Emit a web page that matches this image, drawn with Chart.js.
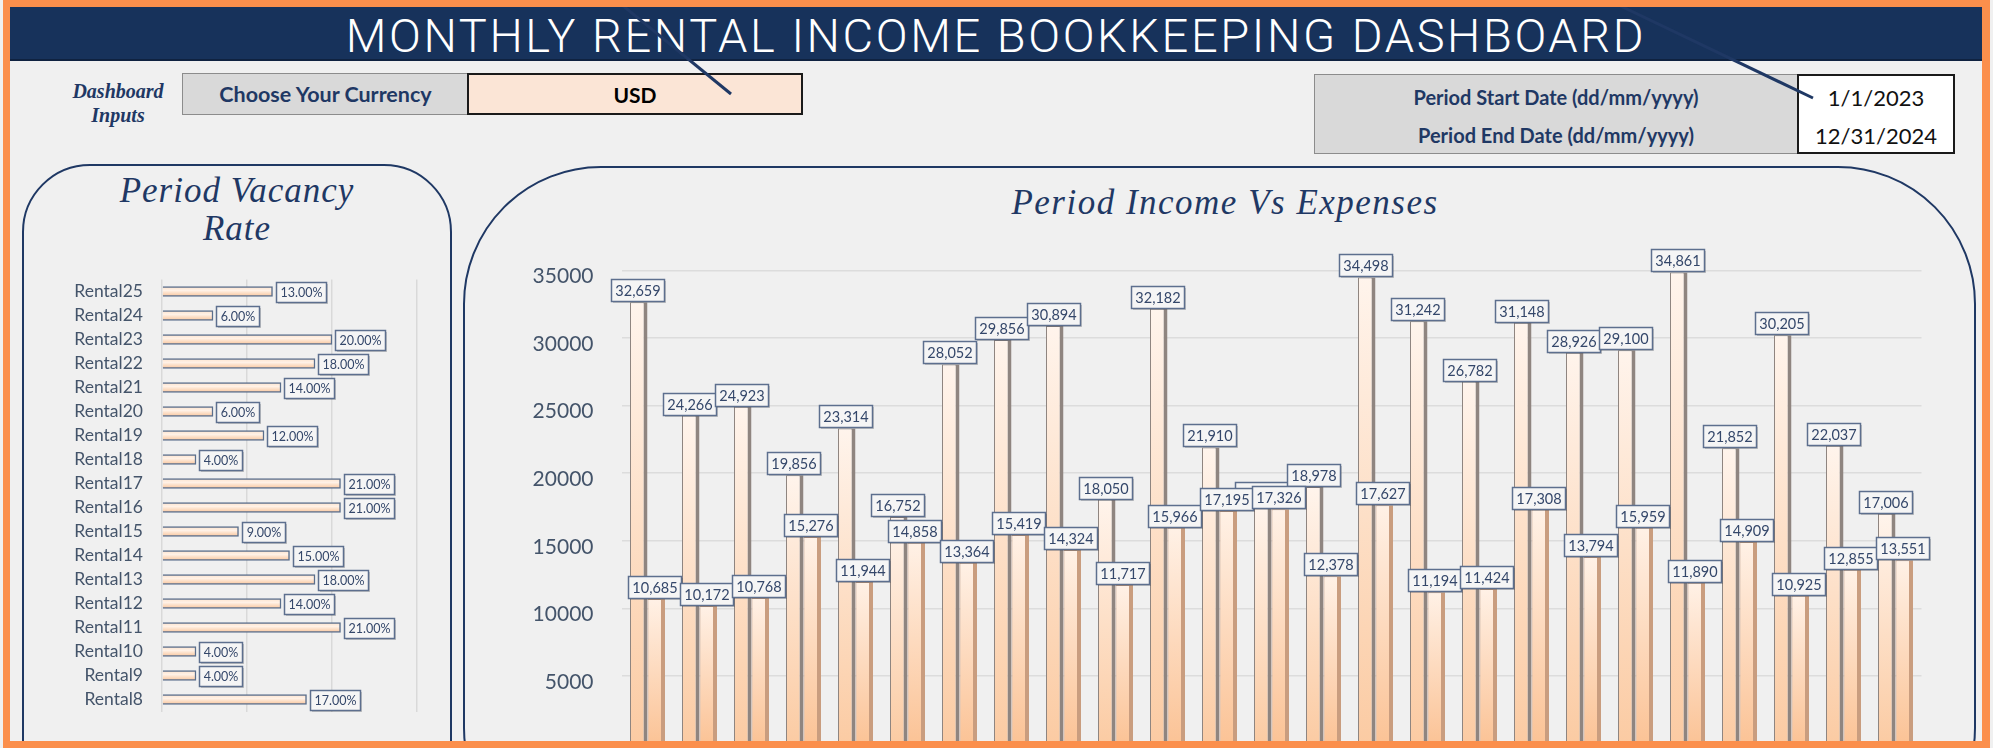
<!DOCTYPE html>
<html>
<head>
<meta charset="utf-8">
<title>Monthly Rental Income Bookkeeping Dashboard</title>
<script src="https://cdn.jsdelivr.net/npm/chart.js@4.4.0/dist/chart.umd.min.js"></script>
<style>
  body { margin:0; width:1993px; height:748px; overflow:hidden; background:#f0f0f0; position:relative; font-family:Lato, sans-serif; }
  .abs { position:absolute; box-sizing:border-box; }
  #frame { left:3px; top:0; width:1987px; height:748px; border:7px solid #fb8f4c; border-right-width:8px; z-index:20; }
  #titlebar { left:10px; top:7px; width:1972px; height:54px; background:#17325b; border-bottom:2px solid #0f2240;
              color:#fff; font:300 47px Roboto, "Liberation Sans", sans-serif; letter-spacing:2.6px; text-align:center; line-height:57px; }
  .script { font-family:"Liberation Serif", serif; font-style:italic; color:#1f3864; text-align:center; }
  .box { display:flex; align-items:center; justify-content:center; font-weight:700; font-size:20px; }
  .panel { border:2.5px solid #1f3864; }
  canvas { position:absolute; z-index:5; }
  #lines { position:absolute; left:0; top:0; z-index:15; }
</style>
</head>
<body>
<div id="titlebar" class="abs">MONTHLY RENTAL INCOME BOOKKEEPING DASHBOARD</div>

<div class="abs script" style="left:58px;top:79px;width:120px;font-size:20px;font-weight:700;line-height:24px;">Dashboard<br>Inputs</div>
<div class="abs box" style="left:182px;top:73px;width:287px;height:42px;background:#d9d9d9;border:1.5px solid #8c8c8c;color:#1f3864;font-size:21.5px;">Choose Your Currency</div>
<div class="abs box" style="left:467px;top:73px;width:336px;height:42px;background:#fbe5d6;border:2px solid #1a1a1a;color:#000;font-size:21px;">USD</div>

<div class="abs" style="left:1314px;top:74px;width:484px;height:80px;background:#d9d9d9;border:1.5px solid #8c8c8c;"></div>
<div class="abs box" style="left:1314px;top:78px;width:484px;height:38px;color:#1f3864;">Period Start Date (dd/mm/yyyy)</div>
<div class="abs box" style="left:1314px;top:116px;width:484px;height:38px;color:#1f3864;">Period End Date (dd/mm/yyyy)</div>
<div class="abs" style="left:1797px;top:74px;width:158px;height:80px;background:#fff;border:2px solid #1a1a1a;"></div>
<div class="abs box" style="left:1797px;top:78px;width:158px;height:38px;font-weight:400;font-size:22px;color:#111;">1/1/2023</div>
<div class="abs box" style="left:1797px;top:116px;width:158px;height:38px;font-weight:400;font-size:22px;color:#111;">12/31/2024</div>

<div class="abs panel" style="left:22px;top:164px;width:430px;height:700px;border-radius:68px;"></div>
<div class="abs panel" style="left:463px;top:166px;width:1513px;height:700px;border-radius:138px;"></div>
<div class="abs script" style="left:22px;top:172px;width:430px;font-size:35px;line-height:38px;letter-spacing:1px;">Period Vacancy<br>Rate</div>
<div class="abs script" style="left:900px;top:183px;width:650px;font-size:35px;line-height:40px;letter-spacing:1.5px;">Period Income Vs Expenses</div>

<canvas id="vacancyChart" width="428" height="491" style="left:23px;top:250px;"></canvas>
<canvas id="incomeChart" width="1490" height="554" style="left:470px;top:230px;"></canvas>

<svg id="lines" width="1993" height="748">
  <line x1="616" y1="0" x2="731" y2="94" stroke="#1f3864" stroke-width="3"/>
  <line x1="1608" y1="0" x2="1813" y2="98" stroke="#1f3864" stroke-width="3"/>
</svg>
<div id="frame" class="abs"></div>

<script>
// vacancy per rental (visible part of the list, top to bottom)
const rentals = ['Rental25', 'Rental24', 'Rental23', 'Rental22', 'Rental21', 'Rental20', 'Rental19', 'Rental18', 'Rental17',
  'Rental16', 'Rental15', 'Rental14', 'Rental13', 'Rental12', 'Rental11', 'Rental10', 'Rental9', 'Rental8'];
const vacancyPct = [13, 6, 20, 18, 14, 6, 12, 4, 21, 21, 9, 15, 18, 14, 21, 4, 4, 17];
const vacancyTicks = [0, 10, 20, 30];

// income vs expenses per rental
const properties = ['Rental1', 'Rental2', 'Rental3', 'Rental4', 'Rental5', 'Rental6', 'Rental7', 'Rental8', 'Rental9',
  'Rental10', 'Rental11', 'Rental12', 'Rental13', 'Rental14', 'Rental15', 'Rental16', 'Rental17', 'Rental18', 'Rental19',
  'Rental20', 'Rental21', 'Rental22', 'Rental23', 'Rental24', 'Rental25'];
const income = [32659, 24266, 24923, 19856, 23314, 16752, 28052, 29856, 30894, 18050, 32182, 21910, 17650,
  18978, 34498, 31242, 26782, 31148, 28926, 29100, 34861, 21852, 30205, 22037, 17006];
const expenses = [10685, 10172, 10768, 15276, 11944, 14858, 13364, 15419, 14324, 11717, 15966, 17195, 17326,
  12378, 17627, 11194, 11424, 17308, 13794, 15959, 11890, 14909, 10925, 12855, 13551];
const incomeTicks = [0, 5000, 10000, 15000, 20000, 25000, 30000, 35000];

const slate = '#44546a';

// little boxed value labels like the excel data callouts
const boxLabels = {
  id: 'boxLabels',
  afterDatasetsDraw(chart, args, opts) {
    const ctx = chart.ctx;
    ctx.save();
    ctx.font = opts.font;
    ctx.textAlign = 'center';
    ctx.textBaseline = 'middle';
    chart.data.datasets.forEach((ds, di) => {
      chart.getDatasetMeta(di).data.forEach((bar, i) => {
        const txt = opts.format(ds.data[i]);
        const w = Math.round(ctx.measureText(txt).width + opts.padX * 2);
        const h = opts.height;
        let x, y;
        if (chart.options.indexAxis === 'y') {
          x = Math.round(bar.x + opts.gap);
          y = Math.round(bar.y - h / 2);
        } else {
          x = Math.round(bar.x + opts.dx - w / 2);
          y = Math.round(bar.y - h - opts.gap);
        }
        ctx.fillStyle = 'rgba(60,60,60,0.25)';
        ctx.fillRect(x + 2, y + 2, w, h);
        ctx.fillStyle = '#f5f5f5';
        ctx.fillRect(x, y, w, h);
        ctx.strokeStyle = '#5d6f8e';
        ctx.lineWidth = 1.5;
        ctx.strokeRect(x + 0.5, y + 0.5, w, h);
        ctx.fillStyle = '#34476a';
        ctx.fillText(txt, x + w / 2 + 0.5, y + h / 2 + 1);
      });
    });
    ctx.restore();
  }
};

function columnFill(c, top, bottom) {
  const chart = c.chart;
  if (!chart.chartArea) return bottom;
  const ys = chart.scales.y;
  const g = chart.ctx.createLinearGradient(0, ys.getPixelForValue(c.raw), 0, ys.getPixelForValue(0));
  g.addColorStop(0, top);
  g.addColorStop(1, bottom);
  return g;
}

function rowFill(c) {
  const chart = c.chart;
  if (!chart.chartArea) return '#fbd3b1';
  const yc = chart.scales.y.getPixelForValue(c.dataIndex);
  const g = chart.ctx.createLinearGradient(0, yc - 5, 0, yc + 5);
  g.addColorStop(0, '#fde3cd');
  g.addColorStop(0.4, '#fff1e6');
  g.addColorStop(1, '#f8c49a');
  return g;
}

function loadVacancyChart() {
  const config = {
    type: 'bar',
    data: {
      labels: rentals,
      datasets: [{
        label: 'Vacancy Rate',
        data: vacancyPct,
        backgroundColor: rowFill,
        borderColor: '#5b6f8c',
        borderWidth: 1.5,
        barThickness: 10
      }]
    },
    options: {
      responsive: false,
      animation: false,
      indexAxis: 'y',
      layout: { padding: { top: 19, right: 34, left: 0, bottom: 0 } },
      plugins: {
        legend: { display: false },
        tooltip: { enabled: false },
        boxLabels: { font: '12.5px Lato', padX: 4, height: 20, gap: 3, format: v => v.toFixed(2) + '%' }
      },
      scales: {
        x: {
          min: 0, max: 30,
          afterBuildTicks: s => { s.ticks = vacancyTicks.map(v => ({ value: v })); },
          afterFit: s => { s.height = 0; },
          ticks: { display: false },
          grid: { color: '#d9d9d9', lineWidth: 1.5, drawTicks: false },
          border: { display: false }
        },
        y: {
          afterFit: s => { s.width = 139; },
          ticks: { color: slate, font: { family: 'Lato', size: 17.5 }, padding: 19 },
          grid: { display: false, drawTicks: false },
          border: { display: false }
        }
      }
    },
    plugins: [boxLabels]
  };
  new Chart(document.getElementById('vacancyChart'), config);
}

function loadIncomeChart() {
  const config = {
    type: 'bar',
    data: {
      labels: properties,
      datasets: [{
        label: 'Income',
        data: income,
        backgroundColor: c => columnFill(c, '#fff4ec', '#fbcba3'),
        borderColor: '#8f8580',
        borderWidth: { left: 1, top: 1, right: 4, bottom: 0 },
        categoryPercentage: 0.673,
        barPercentage: 1
      }, {
        label: 'Expenses',
        data: expenses,
        backgroundColor: c => columnFill(c, '#fff1e6', '#fbc396'),
        borderColor: '#c99d7f',
        borderWidth: { left: 1, top: 1, right: 4, bottom: 0 },
        categoryPercentage: 0.673,
        barPercentage: 1
      }]
    },
    options: {
      responsive: false,
      animation: false,
      layout: { padding: { top: 39.5, right: 38.5, left: 0, bottom: 0 } },
      plugins: {
        legend: { display: false },
        tooltip: { enabled: false },
        boxLabels: { font: '14.5px Lato', padX: 4, height: 22, gap: 1, dx: -1.5, format: v => v.toLocaleString('en-US') }
      },
      scales: {
        x: { display: false },
        y: {
          min: 0, max: 35000,
          afterBuildTicks: s => { s.ticks = incomeTicks.map(v => ({ value: v })); },
          afterFit: s => { s.width = 151.5; },
          ticks: { color: slate, font: { family: 'Lato', size: 21 }, padding: 28, labelOffset: 6, callback: v => String(v) },
          grid: { color: '#dcdcdc', lineWidth: 1.5, drawTicks: false },
          border: { display: false }
        }
      }
    },
    plugins: [boxLabels]
  };
  new Chart(document.getElementById('incomeChart'), config);
}

loadVacancyChart();
loadIncomeChart();
</script>
</body>
</html>
